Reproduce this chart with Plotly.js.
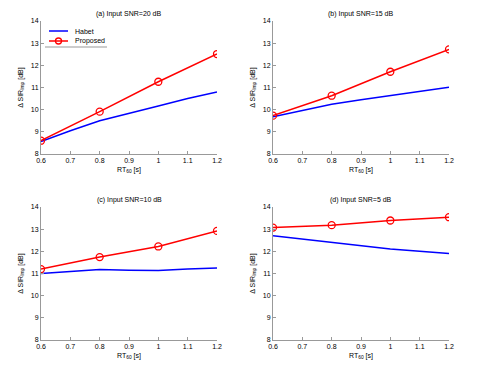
<!DOCTYPE html>
<html><head><meta charset="utf-8">
<script src="https://cdn.plot.ly/plotly-3.0.1.min.js"></script>
<style>body{margin:0;padding:0;background:#fff}#g{width:477px;height:371px}</style>
</head><body><div id="g"></div>
<script>
// Data
const rtProposed = [0.6, 0.8, 1.0, 1.2];
const rtHabet = [0.6, 0.7, 0.8, 0.9, 1.0, 1.1, 1.2];
const panelTitles = ["(a) Input SNR=20 dB", "(b) Input SNR=15 dB", "(c) Input SNR=10 dB", "(d) Input SNR=5 dB"];
const seriesNames = ["Habet", "Proposed"];
const habetA = [8.56, 9.05, 9.5, 9.85, 10.17, 10.5, 10.8];
const proposedA = [8.6, 9.91, 11.26, 12.51];
const habetB = [9.68, 9.97, 10.24, 10.45, 10.63, 10.82, 11.01];
const proposedB = [9.73, 10.63, 11.71, 12.72];
const habetC = [11.0, 11.1, 11.18, 11.15, 11.14, 11.2, 11.25];
const proposedC = [11.2, 11.74, 12.22, 12.92];
const habetD = [12.7, 12.55, 12.41, 12.26, 12.11, 12.0, 11.9];
const proposedD = [13.07, 13.18, 13.39, 13.54];
const xTicks = [0.6, 0.7, 0.8, 0.9, 1, 1.1, 1.2];
const xTickText = ["0.6", "0.7", "0.8", "0.9", "1", "1.1", "1.2"];
const yTicks = [8, 9, 10, 11, 12, 13, 14];

const habet = [habetA, habetB, habetC, habetD];
const proposed = [proposedA, proposedB, proposedC, proposedD];

const W = 477, H = 371;
const xDom = [[41 / W, 217 / W], [273 / W, 449 / W]];
const yDom = [[1 - 154 / H, 1 - 21 / H], [1 - 340 / H, 1 - 207 / H]];
const font = {family: "Liberation Sans, Arial, sans-serif", size: 7, color: "#000"};

const traces = [];
const layout = {
  width: W, height: H, margin: {l: 0, r: 0, t: 0, b: 0},
  paper_bgcolor: "#fff", plot_bgcolor: "#fff", font: font,
  showlegend: false,
  annotations: [], shapes: []
};

for (let i = 0; i < 4; i++) {
  const col = i % 2, row = Math.floor(i / 2);
  const n = i + 1;
  const xa = "x" + (n === 1 ? "" : n), ya = "y" + (n === 1 ? "" : n);
  const xk = "xaxis" + (n === 1 ? "" : n), yk = "yaxis" + (n === 1 ? "" : n);
  traces.push({x: rtHabet, y: habet[i], type: "scatter", mode: "lines", name: seriesNames[0],
               line: {color: "#0000ff", width: 1.5}, xaxis: xa, yaxis: ya});
  traces.push({x: rtProposed, y: proposed[i], type: "scatter", mode: "lines+markers", name: seriesNames[1],
               line: {color: "#ff0000", width: 1.5}, marker: {symbol: "circle-open", size: 7, color: "#ff0000", line: {width: 1.3, color: "#ff0000"}},
               xaxis: xa, yaxis: ya});
  layout[xk] = {domain: xDom[col], anchor: ya, range: [0.6, 1.2], tickvals: xTicks, ticktext: xTickText,
    ticks: "inside", ticklen: 3, tickcolor: "#999", showline: true, linecolor: "#999", linewidth: 1,
    showgrid: false, zeroline: false, tickfont: font,
    title: {text: "RT<sub>60</sub> [s]", font: font, standoff: 3}};
  layout[yk] = {domain: yDom[row], anchor: xa, range: [8, 14], tickvals: yTicks,
    ticks: "inside", ticklen: 3, tickcolor: "#999", showline: true, linecolor: "#999", linewidth: 1,
    showgrid: false, zeroline: false, tickfont: font,
    title: {text: "\u0394 SIR<sub>Imp</sub> [dB]", font: font, standoff: 6}};
  const nx = n + 4, ny = n + 4;
  layout["xaxis" + nx] = {domain: xDom[col], anchor: ya, overlaying: xa, side: "top", range: [0.6, 1.2], tickvals: xTicks,
    ticks: "inside", ticklen: 3, tickcolor: "#bbb", showticklabels: false, showline: false, showgrid: false, zeroline: false};
  layout["yaxis" + ny] = {domain: yDom[row], anchor: xa, overlaying: ya, side: "right", range: [8, 14], tickvals: yTicks,
    ticks: "inside", ticklen: 3, tickcolor: "#bbb", showticklabels: false, showline: false, showgrid: false, zeroline: false};
  layout.annotations.push({text: panelTitles[i], xref: "paper", yref: "paper",
    x: (xDom[col][0] + xDom[col][1]) / 2, y: yDom[row][1], yanchor: "bottom", xanchor: "center", yshift: 1,
    showarrow: false, font: font});
}
// Manual legend in panel (a)
const legRows = [{y: 31, color: "#0000ff", marker: false}, {y: 41, color: "#ff0000", marker: true}];
legRows.forEach((r, k) => {
  const yp = 1 - r.y / H;
  layout.shapes.push({type: "line", xref: "paper", yref: "paper", x0: 49 / W, x1: 68 / W, y0: yp, y1: yp,
    line: {color: r.color, width: 1.5}});
  if (r.marker) {
    layout.shapes.push({type: "circle", xref: "paper", yref: "paper", x0: 55.5 / W, x1: 61.5 / W, y0: yp - 3 / H, y1: yp + 3 / H,
      line: {color: r.color, width: 1.3}});
  }
  layout.annotations.push({text: seriesNames[k], xref: "paper", yref: "paper", x: 73 / W, y: yp,
    xanchor: "left", yanchor: "middle", showarrow: false, font: font});
});
layout.shapes.push({type: "line", xref: "paper", yref: "paper", x0: 45 / W, x1: 107 / W, y0: 1 - 47 / H, y1: 1 - 47 / H,
  line: {color: "#999", width: 1}});

Plotly.newPlot("g", traces, layout, {displayModeBar: false, staticPlot: true});
</script></body></html>
